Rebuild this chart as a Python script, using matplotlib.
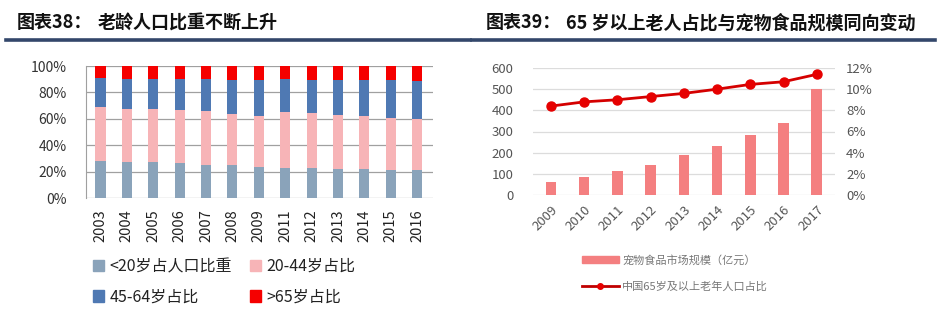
import matplotlib
matplotlib.use("Agg")
import matplotlib.pyplot as plt
from matplotlib.patches import Patch
from matplotlib.lines import Line2D
from matplotlib.ticker import FuncFormatter
import numpy as np

plt.rcParams['font.family'] = ['Noto Sans CJK SC', 'DejaVu Sans']

# 图表38 data: shares (%) by age group
years_age = ['2003', '2004', '2005', '2006', '2007', '2008', '2009',
             '2011', '2012', '2013', '2014', '2015', '2016']
under20 = [28.1, 27.6, 27.3, 26.6, 25.3, 24.8, 23.5, 22.5, 22.5, 22.0, 22.0, 21.3, 21.3]
age20_44 = [41.0, 40.0, 39.8, 40.0, 40.5, 38.7, 39.0, 42.6, 41.8, 41.0, 40.0, 39.5, 38.4]
age45_64 = [22.0, 22.5, 23.0, 23.5, 24.3, 26.1, 27.1, 25.0, 25.3, 26.6, 27.1, 28.3, 28.7]
over65 = [8.9, 9.9, 9.9, 9.9, 9.9, 10.4, 10.4, 9.9, 10.4, 10.4, 10.9, 10.9, 11.6]
age_labels = ['<20岁占人口比重', '20-44岁占比', '45-64岁占比', '>65岁占比']
age_colors = ['#8aa3ba', '#f7b4b7', '#4f79b3', '#f50000']

# 图表39 data: pet food market (亿元) and 65+ population share (%)
years_pet = ['2009', '2010', '2011', '2012', '2013', '2014', '2015', '2016', '2017']
pet_food = [60, 85, 114, 142, 190, 232, 284, 338, 500]
elderly_share = [8.4, 8.8, 9.0, 9.3, 9.6, 10.0, 10.45, 10.7, 11.4]

W, H = 940, 328
fig = plt.figure(figsize=(W / 100, H / 100), dpi=100)


def box(x0, y0, x1, y1):
    return [x0 / W, 1 - y1 / H, (x1 - x0) / W, (y1 - y0) / H]


# headers with navy rule underneath
title_kw = dict(fontsize=13, fontweight='bold', color='#111111', va='center')
fig.text(17 / W, 1 - 23 / H, '图表38：', **title_kw)
fig.text(98 / W, 1 - 23 / H, '老龄人口比重不断上升', **title_kw)
fig.text(486 / W, 1 - 23 / H, '图表39：', **title_kw)
fig.text(566 / W, 1 - 23 / H, '65 岁以上老人占比与宠物食品规模同向变动', **title_kw)
fig.add_artist(Line2D([6 / W, 470 / W], [1 - 39.5 / H] * 2, color='#33476b', lw=2.6))
fig.add_artist(Line2D([472 / W, 935 / W], [1 - 39.5 / H] * 2, color='#33476b', lw=2.6))

# ---- left: stacked 100% bars ----
ax1 = fig.add_axes(box(86, 66, 433, 198))
x1 = np.arange(len(years_age))
bottom = np.zeros(len(years_age))
handles = []
for vals, lab, col in zip([under20, age20_44, age45_64, over65], age_labels, age_colors):
    ax1.bar(x1, vals, width=0.38, bottom=bottom, color=col, zorder=2)
    bottom += np.array(vals)
    handles.append(Patch(color=col, label=lab))
ax1.set_ylim(0, 100)
ax1.set_xlim(-0.55, 12.6)
ax1.set_yticks(np.arange(0, 101, 20))
ax1.yaxis.set_major_formatter(FuncFormatter(lambda v, p: f'{v:.0f}%'))
ax1.grid(axis='y', color='#a0a0a0', lw=0.9, zorder=0)
for s in ['top', 'right', 'bottom']:
    ax1.spines[s].set_visible(False)
ax1.spines['left'].set_color('#a0a0a0')
ax1.set_xticks(x1)
ax1.set_xticklabels(years_age, rotation=90, fontsize=10.5, color='#222222')
ax1.tick_params(axis='both', length=0)
ax1.tick_params(axis='y', labelsize=10, colors='#333333', pad=14)
ax1.tick_params(axis='x', pad=8)

# legend fills column-wise, so order gives rows: (<20, 20-44), (45-64, >65)
leg_order = [handles[0], handles[2], handles[1], handles[3]]
fig.legend(handles=leg_order, ncol=2, loc='upper left',
           bbox_to_anchor=(93 / W, 1 - 258 / H), frameon=False,
           fontsize=11.5, handlelength=0.7, handleheight=0.7,
           handletextpad=0.35, columnspacing=1.1, labelspacing=0.85,
           borderaxespad=0, borderpad=0, labelcolor='#222222')

# ---- right: bars with share line on twin axis ----
ax2 = fig.add_axes(box(533, 68, 835, 195))
x2 = np.arange(len(years_pet))
ax2.bar(x2, pet_food, width=0.32, color='#f47f80', zorder=2)
ax2.set_ylim(0, 600)
ax2.set_xlim(-0.54, 8.55)
ax2.set_yticks(np.arange(0, 601, 100))
ax2.grid(axis='y', color='#dcdcdc', lw=0.9, zorder=0)
for s in ax2.spines.values():
    s.set_visible(False)
ax2.set_xticks(x2)
ax2.set_xticklabels(years_pet, rotation=45, ha='right', rotation_mode='anchor',
                    fontsize=9.5, color='#555555')
ax2.tick_params(axis='both', length=0)
ax2.tick_params(axis='y', labelsize=9.5, colors='#555555', pad=14)
ax2.tick_params(axis='x', pad=6)

ax3 = ax2.twinx()
ax3.plot(x2, elderly_share, color='#d40000', lw=2, marker='o', ms=6.5,
         markerfacecolor='#e60000', markeredgecolor='#e60000', zorder=3)
ax3.set_ylim(0, 12)
ax3.set_yticks(np.arange(0, 13, 2))
ax3.yaxis.set_major_formatter(FuncFormatter(lambda v, p: f'{v:.0f}%'))
for s in ax3.spines.values():
    s.set_visible(False)
ax3.tick_params(axis='y', length=0, labelsize=9.5, colors='#555555', pad=8)

h2 = [Patch(color='#f47f80', label='宠物食品市场规模（亿元）'),
      Line2D([0], [0], color='#c00000', lw=2, marker='o', ms=4,
             markerfacecolor='#e60000', markeredgecolor='#e60000',
             label='中国65岁及以上老年人口占比')]
fig.legend(handles=h2, loc='upper left', bbox_to_anchor=(582 / W, 1 - 255 / H),
           frameon=False, fontsize=8, handlelength=3.3, handleheight=0.6,
           handletextpad=0.3, labelspacing=1.35, borderaxespad=0, borderpad=0,
           labelcolor='#777777')

fig.savefig('out.png', dpi=100)
